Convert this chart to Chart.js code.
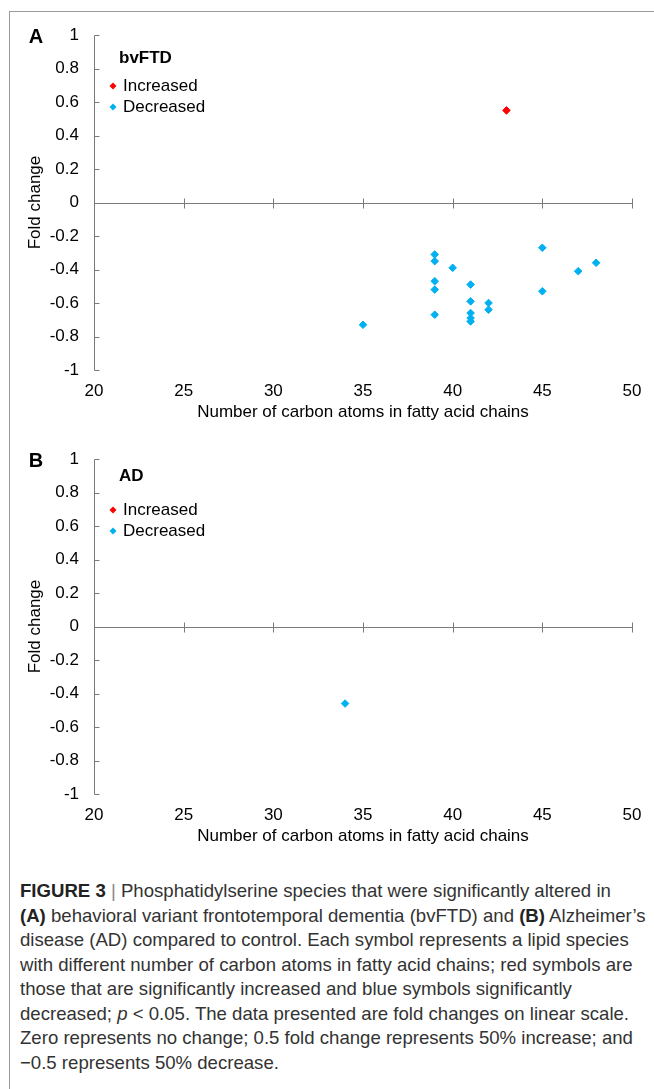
<!DOCTYPE html>
<html>
<head>
<meta charset="utf-8">
<script src="https://cdn.jsdelivr.net/npm/chart.js@4.4.0/dist/chart.umd.min.js"></script>
<style>
  body { margin: 0; background: #fff; width: 654px; height: 1089px; position: relative; overflow: hidden; }
  #frame { position: absolute; left: 9px; top: 11px; width: 660px; height: 1100px; border-top: 1px solid #9a9a9a; border-left: 1px solid #9a9a9a; }
  canvas { position: absolute; left: 0; }
  #chartA { top: 0; }
  #chartB { top: 424px; }
  #caption { position: absolute; left: 20px; top: 879px; font-family: "Liberation Sans", Arial, sans-serif; font-size: 18.6px; line-height: 24.5px; color: #333; white-space: nowrap; }
  #caption b { color: #222; }
  #caption .bar { color: #888; }
</style>
</head>
<body>
<div id="frame"></div>
<canvas id="chartA" width="654" height="430"></canvas>
<canvas id="chartB" width="654" height="430"></canvas>
<div id="caption"><b>FIGURE 3</b> <span class="bar">|</span> Phosphatidylserine species that were significantly altered in<br><b>(A)</b> behavioral variant frontotemporal dementia (bvFTD) and <b>(B)</b> Alzheimer’s<br>disease (AD) compared to control. Each symbol represents a lipid species<br>with different number of carbon atoms in fatty acid chains; red symbols are<br>those that are significantly increased and blue symbols significantly<br>decreased; <i>p</i> &lt; 0.05. The data presented are fold changes on linear scale.<br>Zero represents no change; 0.5 fold change represents 50% increase; and<br>−0.5 represents 50% decrease.</div>
<script>
// panel A (bvFTD)
const carbonIncA = [43];
const foldIncA = [0.55];
const carbonDecA = [35, 39, 39, 39, 39, 39, 40, 41, 41, 41, 41, 41, 42, 42, 45, 45, 47, 48];
const foldDecA = [-0.73, -0.31, -0.35, -0.47, -0.52, -0.67, -0.39, -0.49, -0.59, -0.66, -0.69, -0.71, -0.60, -0.64, -0.27, -0.53, -0.41, -0.36];

// panel B (AD)
const carbonIncB = [];
const foldIncB = [];
const carbonDecB = [34];
const foldDecB = [-0.46];

const xTicks = [20, 25, 30, 35, 40, 45, 50];
const yTicks = [-1, -0.8, -0.6, -0.4, -0.2, 0, 0.2, 0.4, 0.6, 0.8, 1];

const red = '#ff0000';
const blue = '#00b0f0';
const axisColor = '#7a7a7a';
const font = 'Liberation Sans, Arial, sans-serif';

function toPoints(xs, ys) {
    let pts = [];
    for (let i = 0; i < xs.length; i++) {
        pts.push({x: xs[i], y: ys[i]});
    }
    return pts;
}

// zero line with crossing ticks, y axis line with inward ticks
const axisMarks = {
    id: 'axisMarks',
    beforeDatasetsDraw(chart) {
        const {ctx, scales: {x, y}} = chart;
        ctx.save();
        ctx.strokeStyle = axisColor;
        ctx.lineWidth = 1;
        ctx.beginPath();
        const y0 = Math.round(y.getPixelForValue(0)) + 0.5;
        const xl = Math.round(x.left) + 0.5;
        ctx.moveTo(xl, y0);
        ctx.lineTo(x.right, y0);
        xTicks.forEach(function (v) {
            if (v === xTicks[0]) return;
            const px = Math.round(x.getPixelForValue(v)) + 0.5;
            ctx.moveTo(px, y0 - 5);
            ctx.lineTo(px, y0 + 5);
        });
        ctx.moveTo(xl, Math.round(y.top) + 0.5);
        ctx.lineTo(xl, Math.round(y.bottom) + 0.5);
        yTicks.forEach(function (v) {
            const py = Math.round(y.getPixelForValue(v)) + 0.5;
            ctx.moveTo(xl, py);
            ctx.lineTo(xl + 5, py);
        });
        ctx.stroke();
        ctx.restore();
    },
    afterDraw(chart, args, opts) {
        const {ctx, chartArea} = chart;
        ctx.save();
        ctx.fillStyle = '#000';
        ctx.textBaseline = 'middle';
        ctx.textAlign = 'center';
        ctx.font = 'bold 20px ' + font;
        ctx.fillText(opts.letter, 36, chartArea.top + 2);
        ctx.textAlign = 'left';
        ctx.font = 'bold 17px ' + font;
        ctx.fillText(opts.title, 119, chartArea.top + opts.titleOffset);
        ctx.font = '17px ' + font;
        chart.data.datasets.forEach(function (ds, i) {
            const ly = chartArea.top + 51 + i * 21;
            ctx.fillStyle = ds.backgroundColor;
            ctx.beginPath();
            ctx.moveTo(113, ly - 3.5);
            ctx.lineTo(116.5, ly);
            ctx.lineTo(113, ly + 3.5);
            ctx.lineTo(109.5, ly);
            ctx.closePath();
            ctx.fill();
            ctx.fillStyle = '#000';
            ctx.fillText(ds.label, 123, ly);
        });
        ctx.restore();
    }
};

function makeChart(id, incX, incY, decX, decY, letter, title, titleOffset) {
    const ctx = document.getElementById(id).getContext('2d');
    return new Chart(ctx, {
        type: 'scatter',
        data: {
            datasets: [{
                label: 'Increased',
                data: toPoints(incX, incY),
                backgroundColor: red,
                borderColor: red,
                pointStyle: 'rectRot',
                pointRadius: 3.8,
                borderWidth: 1
            }, {
                label: 'Decreased',
                data: toPoints(decX, decY),
                backgroundColor: blue,
                borderColor: blue,
                pointStyle: 'rectRot',
                pointRadius: 3.8,
                borderWidth: 1
            }]
        },
        options: {
            responsive: false,
            animation: false,
            layout: {padding: {top: 35, right: 22, bottom: 0, left: 0}},
            plugins: {
                legend: {display: false},
                tooltip: {enabled: false},
                axisMarks: {letter: letter, title: title, titleOffset: titleOffset}
            },
            scales: {
                x: {
                    type: 'linear',
                    min: 20,
                    max: 50,
                    afterBuildTicks: function (scale) {
                        scale.ticks = xTicks.map(function (v) { return {value: v}; });
                    },
                    grid: {display: false, drawTicks: false},
                    border: {display: false},
                    ticks: {color: '#000', font: {family: font, size: 17}, padding: 11},
                    title: {
                        display: true,
                        text: 'Number of carbon atoms in fatty acid chains',
                        color: '#000',
                        font: {family: font, size: 17},
                        padding: {top: 0, bottom: 7}
                    },
                    afterFit: function (scale) { scale.height = 60; }
                },
                y: {
                    type: 'linear',
                    min: -1,
                    max: 1,
                    afterBuildTicks: function (scale) {
                        scale.ticks = yTicks.map(function (v) { return {value: v}; });
                    },
                    grid: {display: false, drawTicks: false},
                    border: {display: false},
                    ticks: {
                        color: '#000',
                        font: {family: font, size: 17},
                        padding: 15,
                        callback: function (v) { return String(Number(v.toFixed(1))); }
                    },
                    title: {
                        display: true,
                        text: 'Fold change',
                        color: '#000',
                        font: {family: font, size: 17},
                        padding: {top: 25, bottom: 0}
                    },
                    afterFit: function (scale) { scale.width = 94; }
                }
            }
        },
        plugins: [axisMarks]
    });
}

makeChart('chartA', carbonIncA, foldIncA, carbonDecA, foldDecA, 'A', 'bvFTD', 23);
makeChart('chartB', carbonIncB, foldIncB, carbonDecB, foldDecB, 'B', 'AD', 17);
</script>
</body>
</html>
